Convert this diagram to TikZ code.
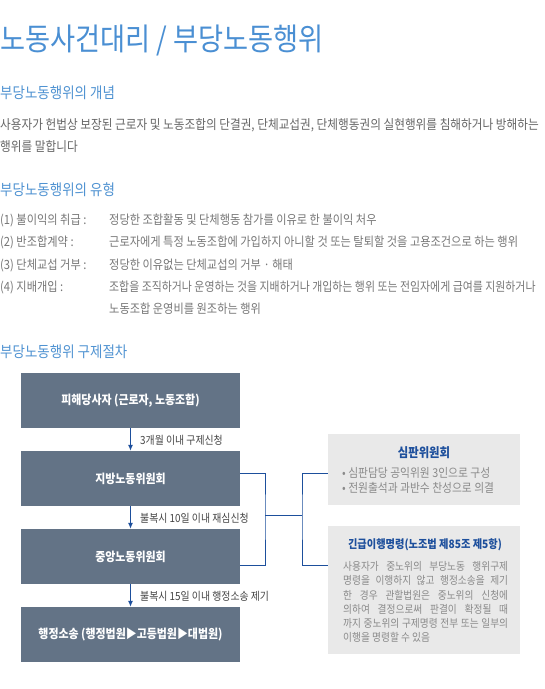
\documentclass[tikz,border=0pt]{standalone}
\usepackage{fontspec}
\setmainfont{Noto Sans CJK KR}
\usetikzlibrary{arrows.meta}
\definecolor{titleblue}{HTML}{4A8FD3}
\definecolor{headblue}{HTML}{5093D2}
\definecolor{bodygray}{HTML}{666666}
\definecolor{itemgray}{HTML}{777777}
\definecolor{boxslate}{HTML}{637386}
\definecolor{sidegray}{HTML}{E9E9E9}
\definecolor{linkblue}{HTML}{1D4F9C}
\definecolor{lblgray}{HTML}{444444}
\definecolor{sidetext}{HTML}{8A8A8A}
\newcommand\cx[1]{\scalebox{0.882}[1]{#1}}
\newcommand\jl[1]{\cx{\makebox[187pt][s]{#1}}}
\begin{document}
\begin{tikzpicture}[x=1pt,y=-1pt,
  txt/.style={inner sep=0pt, anchor=west},
  ttl/.style={txt, text=titleblue, font=\fontsize{30.9}{33}\selectfont},
  head/.style={txt, text=headblue, font=\fontsize{15.3}{17}\selectfont},
  body/.style={txt, text=bodygray, font=\fontsize{13.2}{15}\selectfont},
  item/.style={txt, text=itemgray, font=\fontsize{12.7}{14}\selectfont},
  flowbox/.style={fill=boxslate, minimum width=219pt, minimum height=55pt, inner sep=0pt, text=white, font=\bfseries\fontsize{12.4}{14}\selectfont},
  sidebox/.style={fill=sidegray, minimum width=192pt, inner sep=0pt},
  lbl/.style={txt, text=lblgray, font=\fontsize{11.2}{13}\selectfont},
  sidettl/.style={inner sep=0pt, text=linkblue, font=\bfseries\fontsize{12.9}{14}\selectfont},
  sidettlb/.style={sidettl, font=\bfseries\fontsize{11.6}{13}\selectfont},
  sidetxt/.style={txt, text=sidetext, font=\fontsize{12.2}{14}\selectfont},
  sidebody/.style={txt, text=sidetext, font=\fontsize{11}{13}\selectfont},
  flow/.style={draw=linkblue, line width=1pt},
  arr/.style={flow, -{Latex[length=6pt,width=5pt]}}]
\clip (0,0) rectangle (545,689);
\fill[white] (0,0) rectangle (545,689);

\node[ttl] (title) at (0,40) {\cx{노동사건대리 / 부당노동행위}};

\node[head] (h1) at (0,93) {\cx{부당노동행위의 개념}};
\node[body] (p1) at (0,125) {\cx{사용자가 헌법상 보장된 근로자 및 노동조합의 단결권, 단체교섭권, 단체행동권의 실현행위를 침해하거나 방해하는}};
\node[body] (p2) at (0,147) {\cx{행위를 말합니다}};

\node[head] (h2) at (0,190) {\cx{부당노동행위의 유형}};
\node[item] (l1) at (0,220) {\cx{(1) 불이익의 취급 :}};
\node[item] (d1) at (109,220) {\cx{정당한 조합활동 및 단체행동 참가를 이유로 한 불이익 처우}};
\node[item] (l2) at (0,242) {\cx{(2) 반조합계약 :}};
\node[item] (d2) at (109,242) {\cx{근로자에게 특정 노동조합에 가입하지 아니할 것 또는 탈퇴할 것을 고용조건으로 하는 행위}};
\node[item] (l3) at (0,265) {\cx{(3) 단체교섭 거부 :}};
\node[item] (d3) at (109,265) {\cx{정당한 이유없는 단체교섭의 거부 · 해태}};
\node[item] (l4) at (0,287) {\cx{(4) 지배개입 :}};
\node[item] (d4) at (109,287) {\scalebox{0.86}[1]{조합을 조직하거나 운영하는 것을 지배하거나 개입하는 행위 또는 전임자에게 급여를 지원하거나}};
\node[item] (d5) at (109,309) {\cx{노동조합 운영비를 원조하는 행위}};

\node[head] (h3) at (0,352) {\cx{부당노동행위 구제절차}};

\node[flowbox] (b1) at (130.5,400.5) {\cx{피해당사자 (근로자, 노동조합)}};
\node[flowbox] (b2) at (130.5,478.5) {\cx{지방노동위원회}};
\node[flowbox] (b3) at (130.5,556.5) {\cx{중앙노동위원회}};
\node[flowbox] (b4) at (130.5,634.5) {\cx{행정소송 (행정법원▶고등법원▶대법원)}};

\draw[arr] (b1) -- (b2);
\draw[arr] (b2) -- (b3);
\draw[arr] (b3) -- (b4);
\node[lbl] (a1) at (140,440) {\cx{3개월 이내 구제신청}};
\node[lbl] (a2) at (140,518) {\cx{불복시 10일 이내 재심신청}};
\node[lbl] (a3) at (140,596) {\cx{불복시 15일 이내 행정소송 제기}};

\node[sidebox, minimum height=71pt] (sA) at (424,469.5) {};
\node[sidebox, minimum height=128pt] (sB) at (424,590) {};

\coordinate (bx) at (265,515);
\coordinate (sx) at (302,515);
\draw[flow] ([yshift=5.5pt]b2.east) -| (bx) |- ([yshift=-8.5pt]b3.east);
\draw[flow] (bx) -- (sx);
\draw[flow] ([yshift=-3.5pt]sA.west) -| (sx) |- ([yshift=25pt]sB.west);

\node[sidettl] (tA) at (424,453) {\cx{심판위원회}};
\node[sidetxt] (bA1) at (342,473) {\cx{• 심판담당 공익위원 3인으로 구성}};
\node[sidetxt] (bA2) at (342,488) {\cx{• 전원출석과 과반수 찬성으로 의결}};

\node[sidettlb] (tB) at (425,545) {\cx{긴급이행명령(노조법 제85조 제5항)}};
\node[sidebody] (c1) at (343,566) {\jl{사용자가 중노위의 부당노동 행위구제}};
\node[sidebody] (c2) at (343,580.5) {\jl{명령을 이행하지 않고 행정소송을 제기}};
\node[sidebody] (c3) at (343,595) {\jl{한 경우 관할법원은 중노위의 신청에}};
\node[sidebody] (c4) at (343,609) {\jl{의하여 결정으로써 판결이 확정될 때}};
\node[sidebody] (c5) at (343,623) {\jl{까지 중노위의 구제명령 전부 또는 일부의}};
\node[sidebody] (c6) at (343,637) {\cx{이행을 명령할 수 있음}};
\end{tikzpicture}
\end{document}
